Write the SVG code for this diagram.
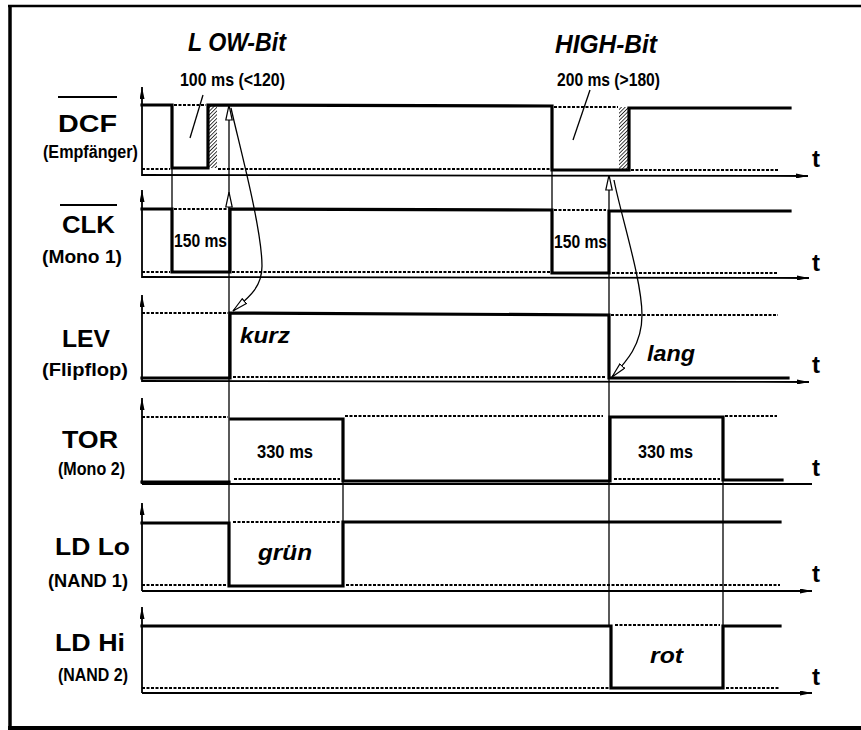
<svg xmlns="http://www.w3.org/2000/svg" width="861" height="730" viewBox="0 0 861 730">
<style>
.sig{stroke:#000;stroke-width:3.2;fill:none;stroke-linejoin:miter;stroke-linecap:square}
.dot{stroke:#000;stroke-width:2.2;stroke-dasharray:3 1.5;fill:none}
.ax{stroke:#000;stroke-width:1.8;fill:none}
.thin{stroke:#000;stroke-width:1.3;fill:none}
.lbl{font-family:"Liberation Sans",Arial,sans-serif;font-weight:bold;fill:#000}
.big{font-size:24px}
.sm{font-size:18px}
.it{font-style:italic}
.t{font-family:"Liberation Sans",Arial,sans-serif;font-weight:bold;font-size:24px}
.ov{stroke:#000;stroke-width:2}
.up{marker-end:url(#ah)}
.oa{marker-end:url(#oa)}
</style>
<defs>
<marker id="ah" viewBox="0 0 12 5" refX="12" refY="2.5" markerWidth="12" markerHeight="5" markerUnits="userSpaceOnUse" orient="auto">
<path d="M0,0 L12,2.5 L0,5 Z" fill="#000"/>
</marker>
<marker id="oa" viewBox="0 0 16 8" refX="15.5" refY="4" markerWidth="16" markerHeight="8" markerUnits="userSpaceOnUse" orient="auto">
<path d="M0.5,0.8 L15.5,4 L0.5,7.2 Z" fill="#fff" stroke="#000" stroke-width="1.2"/>
</marker>
<pattern id="hatch" width="2.6" height="2.6" patternUnits="userSpaceOnUse" patternTransform="rotate(45)">
<line x1="0" y1="0" x2="0" y2="2.6" stroke="#000" stroke-width="1.5"/>
</pattern>
</defs>

<g id="frame">
<line x1="10" y1="6" x2="10" y2="728" stroke="#000" stroke-width="3.5"/>
<line x1="8" y1="6" x2="861" y2="6" stroke="#000" stroke-width="2.5"/>
<line x1="8" y1="728" x2="861" y2="728" stroke="#000" stroke-width="4"/>
</g>

<g id="titles">
<text class="lbl it" x="188" y="51" font-size="26" textLength="98" lengthAdjust="spacingAndGlyphs">L OW-Bit</text>
<text class="lbl" x="180" y="86" font-size="19" textLength="105" lengthAdjust="spacingAndGlyphs">100 ms (&lt;120)</text>
<line x1="203" y1="95" x2="190" y2="138" class="thin" stroke-width="1.6"/>
<text class="lbl it" x="555" y="53" font-size="26" textLength="102" lengthAdjust="spacingAndGlyphs">HIGH-Bit</text>
<text class="lbl" x="557" y="86" font-size="19" textLength="103" lengthAdjust="spacingAndGlyphs">200 ms (&gt;180)</text>
<line x1="590" y1="90" x2="573" y2="140" class="thin" stroke-width="1.6"/>
</g>

<g id="dcf">
<text class="lbl big" x="58" y="132" textLength="59" lengthAdjust="spacingAndGlyphs">DCF</text>
<line class="ov" x1="58" y1="97" x2="117" y2="97"/>
<text class="lbl sm" x="43" y="158" textLength="95" lengthAdjust="spacingAndGlyphs">(Empfänger)</text>
<line class="ax up" x1="142" y1="176" x2="142" y2="87"/>
<line class="ax up" x1="142" y1="175" x2="808" y2="176"/>
<text class="t" x="812" y="167">t</text>
<path class="dot" d="M174,105 H206 M554,107 H618 M142,169 H170 M218,169 H550 M631,170 H778"/>
<rect x="209" y="105" width="8" height="63" fill="url(#hatch)"/>
<rect x="619" y="107" width="9" height="63" fill="url(#hatch)"/>
<path class="sig" d="M142,105 H172 V168 H208 V105 L552,106 V170 H629 V108 H790"/>
</g>

<g id="clk">
<text class="lbl big" x="62" y="233" textLength="53" lengthAdjust="spacingAndGlyphs">CLK</text>
<line class="ov" x1="60" y1="205" x2="117" y2="205"/>
<text class="lbl sm" x="42" y="263" textLength="80" lengthAdjust="spacingAndGlyphs">(Mono 1)</text>
<line class="ax up" x1="142" y1="278" x2="142" y2="190"/>
<line class="ax up" x1="142" y1="277" x2="809" y2="278"/>
<text class="t" x="812" y="271">t</text>
<path class="dot" d="M174,209 H228 M554,210 H606 M142,272 H170 M232,272 H550 M612,273 H778"/>
<text class="lbl sm" x="174" y="247" textLength="53" lengthAdjust="spacingAndGlyphs">150 ms</text>
<text class="lbl sm" x="554" y="248" textLength="53" lengthAdjust="spacingAndGlyphs">150 ms</text>
<path class="sig" d="M142,209 H172 V272 H230 V209 L552,210 V273 H609 V211 H790"/>
</g>

<g id="lev">
<text class="lbl big" x="62" y="347" textLength="48" lengthAdjust="spacingAndGlyphs">LEV</text>
<text class="lbl sm" x="42" y="376" textLength="86" lengthAdjust="spacingAndGlyphs">(Flipflop)</text>
<line class="ax up" x1="142" y1="382" x2="142" y2="295"/>
<line class="ax up" x1="142" y1="381" x2="809" y2="382"/>
<text class="t" x="812" y="373">t</text>
<path class="dot" d="M142,313 H228 M611,315 H778 M233,377 H606"/>
<text class="lbl it" x="240" y="343" font-size="22" textLength="50" lengthAdjust="spacingAndGlyphs">kurz</text>
<text class="lbl it" x="647" y="361" font-size="22" textLength="48" lengthAdjust="spacingAndGlyphs">lang</text>
<path class="sig" d="M142,378 H230 V313 L609,315 V378 H788"/>
</g>

<g id="tor">
<text class="lbl big" x="62" y="448" textLength="56" lengthAdjust="spacingAndGlyphs">TOR</text>
<text class="lbl sm" x="58" y="475" textLength="67" lengthAdjust="spacingAndGlyphs">(Mono 2)</text>
<line class="ax up" x1="142" y1="484" x2="142" y2="398"/>
<line class="ax" x1="142" y1="484" x2="812" y2="484"/>
<text class="t" x="812" y="476">t</text>
<path class="dot" d="M142,417 H228 M345,416 H603 M725,416 H777 M234,479 H340 M614,479 H720"/>
<text class="lbl" x="257" y="458" font-size="19" textLength="56" lengthAdjust="spacingAndGlyphs">330 ms</text>
<text class="lbl" x="638" y="458" font-size="19" textLength="55" lengthAdjust="spacingAndGlyphs">330 ms</text>
<path class="sig" d="M142,482 H229"/>
<path class="sig" d="M231,419 H343 V481 H610 V417 H723 V480 H782"/>
</g>

<g id="ldlo">
<text class="lbl big" x="55" y="555" font-size="23" textLength="75" lengthAdjust="spacingAndGlyphs">LD Lo</text>
<text class="lbl sm" x="48" y="587" textLength="80" lengthAdjust="spacingAndGlyphs">(NAND 1)</text>
<line class="ax up" x1="142" y1="591" x2="142" y2="503"/>
<line class="ax up" x1="142" y1="591" x2="812" y2="591"/>
<text class="t" x="812" y="582">t</text>
<path class="dot" d="M233,522 H340 M142,585 H227 M346,585 H780"/>
<text class="lbl it" x="258" y="560" font-size="22" textLength="54" lengthAdjust="spacingAndGlyphs">grün</text>
<path class="sig" d="M142,523 H229 V586 H343 V522 H780"/>
</g>

<g id="ldhi">
<text class="lbl big" x="55" y="651" textLength="70" lengthAdjust="spacingAndGlyphs">LD Hi</text>
<text class="lbl sm" x="58" y="681" textLength="70" lengthAdjust="spacingAndGlyphs">(NAND 2)</text>
<line class="ax up" x1="142" y1="693" x2="142" y2="607"/>
<line class="ax up" x1="142" y1="693" x2="812" y2="693"/>
<text class="t" x="812" y="685">t</text>
<path class="dot" d="M615,625 H720 M142,688 H609 M726,688 H780"/>
<text class="lbl it" x="650" y="663" font-size="22" textLength="33" lengthAdjust="spacingAndGlyphs">rot</text>
<path class="sig" d="M142,626 H611 V688 H723 V626 H780"/>
</g>

<g id="connectors">
<line class="thin" x1="172" y1="168" x2="172" y2="209"/>
<line class="thin" x1="552" y1="170" x2="552" y2="209"/>
<line class="thin" x1="343" y1="481" x2="343" y2="523"/>
<line class="thin" x1="723" y1="480" x2="723" y2="626"/>
<line class="thin oa" x1="229" y1="523" x2="229" y2="192"/>
<line class="thin oa" x1="229" y1="192" x2="229" y2="105"/>
<line class="thin oa" x1="609" y1="626" x2="609" y2="175"/>
<path class="thin oa" d="M231,108 C238,140 262,228 262,266 C262,288 248,298 233,311"/>
<path class="thin oa" d="M614,180 C620,212 642,280 642,315 C642,345 626,362 612,377"/>
</g>
</svg>
